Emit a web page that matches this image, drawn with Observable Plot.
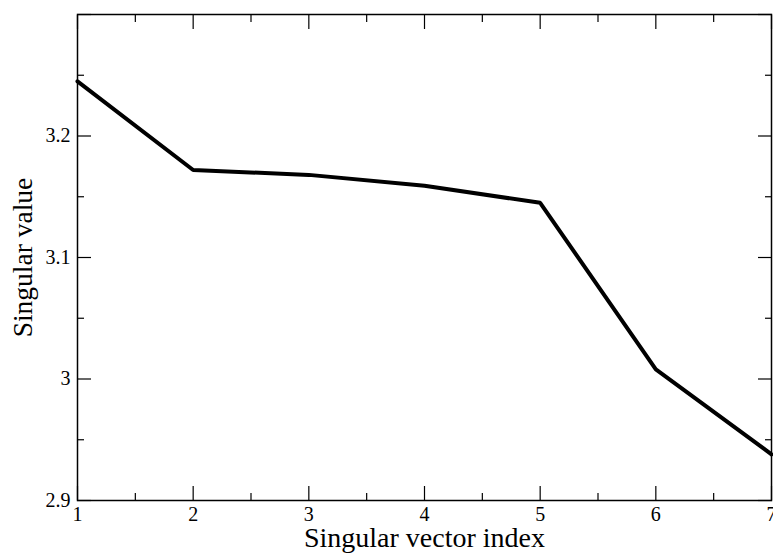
<!DOCTYPE html>
<html>
<head>
<meta charset="utf-8">
<script src="https://cdn.jsdelivr.net/npm/d3@7"></script>
<script src="https://cdn.jsdelivr.net/npm/@observablehq/plot@0.6"></script>
<style>
  html, body { margin: 0; padding: 0; background: #fff; }
  #chart svg text { font-family: 'Liberation Serif', 'Times New Roman', serif; }
  #chart svg g[aria-label$='tick label'] text { font-size: 20px; }
  #chart svg g[aria-label='x-axis label'] text { font-size: 28px; }
  #chart svg g[aria-label='y-axis label'] text { font-size: 27.5px; }
</style>
</head>
<body>
<div id="chart"></div>
<script>
const indices = [1, 2, 3, 4, 5, 6, 7];
const singularValues = [3.245, 3.172, 3.168, 3.159, 3.145, 3.008, 2.938];
const xMajorTicks = [1, 2, 3, 4, 5, 6, 7];
const xMinorTicks = [1.5, 2.5, 3.5, 4.5, 5.5, 6.5];
const yMajorTicks = [2.9, 3.0, 3.1, 3.2, 3.3];
const yLabelTicks = [2.9, 3.0, 3.1, 3.2];
const yMinorTicks = [2.95, 3.05, 3.15, 3.25];
const xLabel = "Singular vector index";
const yLabel = "Singular value";

const data = indices.map((x, i) => ({x, y: singularValues[i]}));

const chart = Plot.plot({
  width: 773,
  height: 555,
  marginLeft: 77,
  marginTop: 14,
  marginRight: 2,
  marginBottom: 55,
  style: "font-family: 'Liberation Serif', 'Times New Roman', serif; font-size: 20px; background: #fff; color: #000; overflow: visible;",
  x: {domain: [1, 7]},
  y: {domain: [2.9, 3.3]},
  marks: [
    // inward ticks, all four sides
    Plot.axisX(xMajorTicks, {anchor: "bottom", tickSize: -14, tickFormat: () => "", label: null, strokeWidth: 1.2}),
    Plot.axisX(xMinorTicks, {anchor: "bottom", tickSize: -7, tickFormat: () => "", label: null, strokeWidth: 1.2}),
    Plot.axisX(xMajorTicks, {anchor: "top", tickSize: -14, tickFormat: () => "", label: null, strokeWidth: 1.2}),
    Plot.axisX(xMinorTicks, {anchor: "top", tickSize: -7, tickFormat: () => "", label: null, strokeWidth: 1.2}),
    Plot.axisY(yMajorTicks, {anchor: "left", tickSize: -14, tickFormat: () => "", label: null, strokeWidth: 1.2}),
    Plot.axisY(yMinorTicks, {anchor: "left", tickSize: -7, tickFormat: () => "", label: null, strokeWidth: 1.2}),
    Plot.axisY(yMajorTicks, {anchor: "right", tickSize: -14, tickFormat: () => "", label: null, strokeWidth: 1.2}),
    Plot.axisY(yMinorTicks, {anchor: "right", tickSize: -7, tickFormat: () => "", label: null, strokeWidth: 1.2}),
    // tick labels and axis titles
    Plot.axisX(xMajorTicks, {anchor: "bottom", tickSize: 0, tickPadding: 6, tickFormat: d => String(d),
      label: xLabel, labelAnchor: "center", labelOffset: 46, labelArrow: "none"}),
    Plot.axisY(yLabelTicks, {anchor: "left", tickSize: 0, tickPadding: 7, tickFormat: d => d3.format("~g")(d),
      label: yLabel, labelAnchor: "center", labelOffset: 65, labelArrow: "none"}),
    Plot.frame({stroke: "#000", strokeWidth: 1.5}),
    Plot.line(data, {x: "x", y: "y", stroke: "#000", strokeWidth: 4, strokeLinejoin: "miter"})
  ]
});
document.getElementById("chart").appendChild(chart);
</script>
</body>
</html>
